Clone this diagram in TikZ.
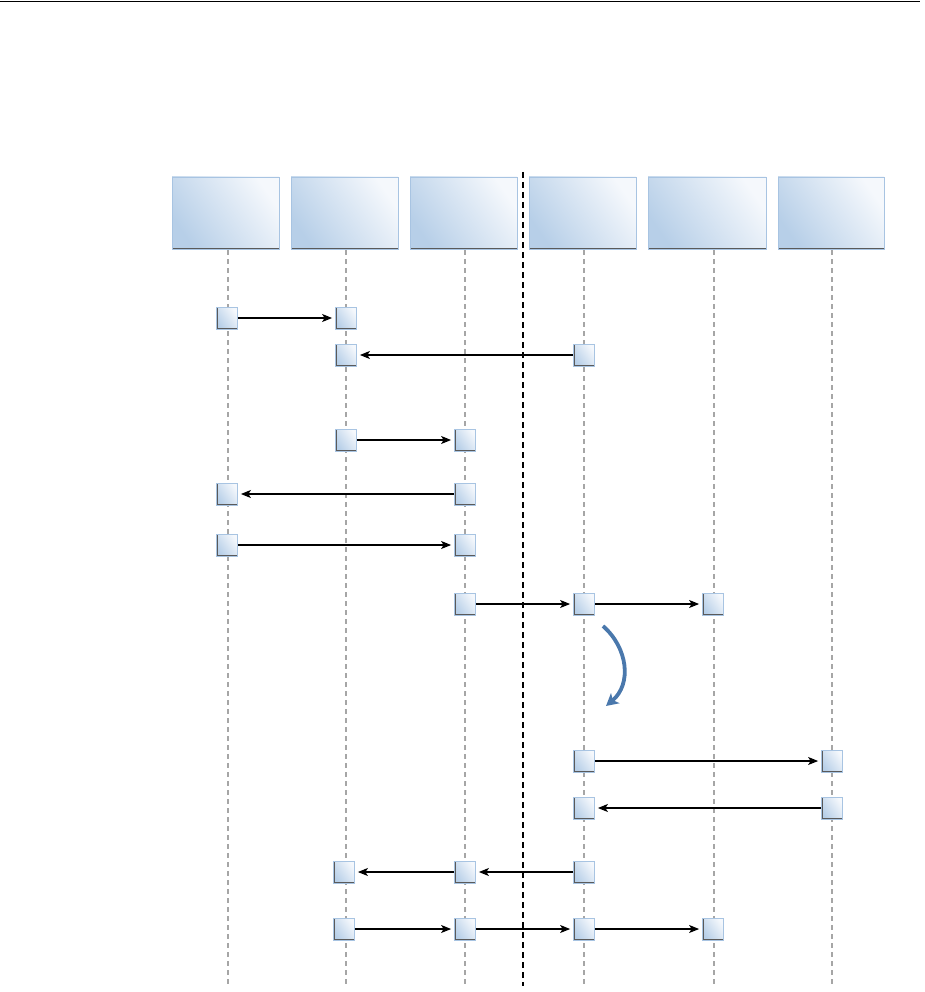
\documentclass[tikz,border=0pt]{standalone}
\usetikzlibrary{arrows.meta}
\definecolor{boxA}{HTML}{B7CFE8}
\definecolor{boxB}{HTML}{F5F8FC}
\definecolor{boxedge}{HTML}{A8C4E2}
\definecolor{shadowc}{HTML}{5A5A5A}
\definecolor{lifec}{HTML}{A6A6A6}
\definecolor{curveblue}{HTML}{4A78AC}
\tikzset{
  headbox/.style={draw=boxedge, line width=0.9pt, minimum height=72pt, inner sep=0pt,
    left color=boxA, right color=boxB, shading angle=125,
    path picture={\draw[shadowc, line width=2.4pt]
      (path picture bounding box.north west) -- (path picture bounding box.south west)
      -- (path picture bounding box.south east);}},
  sbox/.style={draw=boxedge, line width=0.8pt, minimum width=21pt, minimum height=22pt, inner sep=0pt,
    left color=boxA, right color=boxB, shading angle=125,
    path picture={\draw[shadowc, line width=2.2pt]
      (path picture bounding box.north west) -- (path picture bounding box.south west)
      -- (path picture bounding box.south east);}},
  lifeline/.style={lifec, line width=1.1pt, dash pattern=on 5pt off 4pt},
  divider/.style={black, line width=1.1pt, dash pattern=on 6pt off 4pt},
  msg/.style={black, line width=1.2pt, -{Stealth[length=10pt,width=8pt,inset=2.5pt]}, shorten >=3pt},
  turn/.style={curveblue, line width=3.8pt, -{Stealth[length=12pt,width=13pt,inset=3pt]}}
}
\begin{document}
\begin{tikzpicture}[x=1pt,y=-1pt]
\useasboundingbox (0,0) rectangle (924,992);
% top rule
\coordinate (tl) at (0,1.5);
\coordinate (tr) at (920,1.5);
\draw[black, line width=1.4pt] (tl) -- (tr);

% header boxes
\node[headbox, minimum width=107pt] (h1) at (225.5,213) {};
\node[headbox, minimum width=107pt] (h2) at (344.5,213) {};
\node[headbox, minimum width=107pt] (h3) at (463.5,213) {};
\node[headbox, minimum width=107pt] (h4) at (582.5,213) {};
\node[headbox, minimum width=118pt] (h5) at (707,213) {};
\node[headbox, minimum width=106pt] (h6) at (831,213) {};

% lifelines
\foreach \n/\x in {1/228,2/346,3/465,4/584,5/714,6/832}{
  \coordinate (t\n) at (\x,250);
  \coordinate (b\n) at (\x,986);
  \draw[lifeline] (t\n) -- (b\n);
}
% divider
\coordinate (dt) at (523,172);
\coordinate (db) at (523,986);
\draw[divider] (dt) -- (db);

% row 1
\node[sbox] (r1a) at (227,318) {};
\node[sbox] (r1b) at (346,318) {};
\draw[msg] (r1a) -- (r1b);
% row 2
\node[sbox] (r2a) at (346,355) {};
\node[sbox] (r2b) at (584,355) {};
\draw[msg] (r2b) -- (r2a);
% row 3
\node[sbox] (r3a) at (346,440) {};
\node[sbox] (r3b) at (465,440) {};
\draw[msg] (r3a) -- (r3b);
% row 4
\node[sbox] (r4a) at (227,494) {};
\node[sbox] (r4b) at (465,494) {};
\draw[msg] (r4b) -- (r4a);
% row 5
\node[sbox] (r5a) at (227,545) {};
\node[sbox] (r5b) at (465,545) {};
\draw[msg] (r5a) -- (r5b);
% row 6
\node[sbox] (r6a) at (465,604) {};
\node[sbox] (r6b) at (584,604) {};
\node[sbox] (r6c) at (713,604) {};
\draw[msg] (r6a) -- (r6b);
\draw[msg] (r6b) -- (r6c);
% curved arrow
\coordinate (cs) at (603,626);
\coordinate (ce) at (606,706);
\draw[turn] (cs) .. controls (628,648) and (632,684) .. (ce);
% row 7
\node[sbox] (r7a) at (584,761) {};
\node[sbox] (r7b) at (832,761) {};
\draw[msg] (r7a) -- (r7b);
% row 8
\node[sbox] (r8a) at (584,808) {};
\node[sbox] (r8b) at (832,808) {};
\draw[msg] (r8b) -- (r8a);
% row 9
\node[sbox] (r9a) at (344,872) {};
\node[sbox] (r9b) at (465,872) {};
\node[sbox] (r9c) at (584,872) {};
\draw[msg] (r9c) -- (r9b);
\draw[msg] (r9b) -- (r9a);
% row 10
\node[sbox] (r10a) at (344,929) {};
\node[sbox] (r10b) at (465,929) {};
\node[sbox] (r10c) at (584,929) {};
\node[sbox] (r10d) at (713,929) {};
\draw[msg] (r10a) -- (r10b);
\draw[msg] (r10b) -- (r10c);
\draw[msg] (r10c) -- (r10d);
\end{tikzpicture}
\end{document}
